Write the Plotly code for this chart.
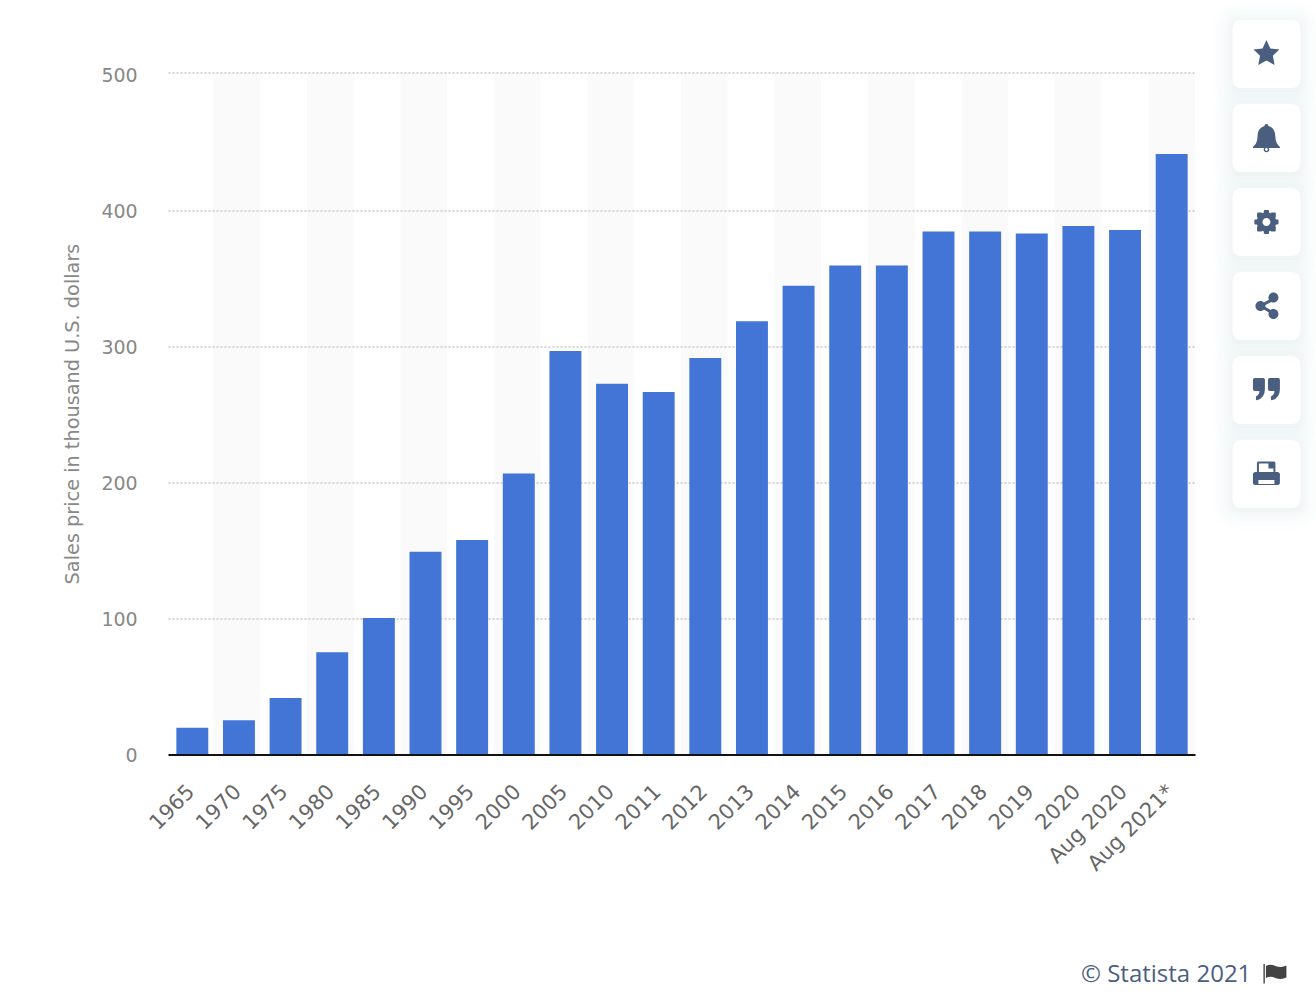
import re
import plotly.graph_objects as go

categories = ["1965", "1970", "1975", "1980", "1985", "1990", "1995", "2000", "2005", "2010", "2011",
              "2012", "2013", "2014", "2015", "2016", "2017", "2018", "2019", "2020", "Aug 2020", "Aug 2021*"]
values = [20, 25.6, 42, 75.6, 100.8, 149.4, 158, 207, 297, 273, 267, 292, 319, 345, 360, 360,
          385, 385, 383.5, 389, 386, 442]
y_ticks = [0, 100, 200, 300, 400, 500]

W, H = 1316, 1002
L, R, T, B = 168.5, 1195.5, 73, 755


def px(x, y):
    return (x - L) / (R - L), (B - y) / (B - T)


def to_paper(d):
    def conv(m):
        a, b = px(float(m.group(1)), float(m.group(2)))
        return f"{a:.5f},{b:.5f}"
    return re.sub(r"(-?[\d.]+),(-?[\d.]+)", conv, d)


def shape_path(d, color, layer="above"):
    return dict(type="path", xref="paper", yref="paper", path=to_paper(d), fillcolor=color,
                line=dict(width=0), layer=layer)


def rrect(x0, y0, x1, y1, r):
    return (f"M{x0 + r},{y0} L{x1 - r},{y0} Q{x1},{y0} {x1},{y0 + r} L{x1},{y1 - r} Q{x1},{y1} {x1 - r},{y1} "
            f"L{x0 + r},{y1} Q{x0},{y1} {x0},{y1 - r} L{x0},{y0 + r} Q{x0},{y0} {x0 + r},{y0} Z")


def circle(cx, cy, r):
    k = 0.5523 * r
    return (f"M{cx + r},{cy} C{cx + r},{cy + k} {cx + k},{cy + r} {cx},{cy + r} "
            f"C{cx - k},{cy + r} {cx - r},{cy + k} {cx - r},{cy} "
            f"C{cx - r},{cy - k} {cx - k},{cy - r} {cx},{cy - r} "
            f"C{cx + k},{cy - r} {cx + r},{cy - k} {cx + r},{cy} Z")


INK = "#4a5f80"
shapes = []

# alternating column bands
for k in range(10, -1, -1):
    x0, _ = px(1149 - 93.6 * k, 0)
    x1, _ = px(1149 - 93.6 * k + 46.6, 0)
    shapes.append(dict(type="rect", xref="paper", yref="paper", x0=x0, x1=x1, y0=0, y1=1,
                       fillcolor="#fafafa", line=dict(width=0), layer="below"))

# dotted grid lines, the top one sits on the plot edge
gx0, _ = px(168, 0)
gx1, _ = px(1195, 0)
for v in y_ticks[1:-1]:
    shapes.append(dict(type="line", xref="paper", yref="y", x0=gx0, x1=gx1, y0=v, y1=v,
                       line=dict(color="#c6c6c6", width=1.5, dash="2px,2px"), layer="below"))
shapes.append(dict(type="line", xref="paper", yref="paper", x0=gx0, x1=gx1, y0=1, y1=1,
                   line=dict(color="#c6c6c6", width=1.5, dash="2px,2px"), layer="below"))
# baseline
shapes.append(dict(type="line", xref="paper", yref="paper", x0=gx0, x1=px(1196, 0)[0], y0=0, y1=0,
                   line=dict(color="#111111", width=2), layer="above"))

# side panel cards with soft shadow
for k in range(6):
    y0 = 20 + 84 * k
    for grow, op in [(20, 0.006), (16, 0.007), (12, 0.009), (8, 0.011), (5, 0.013), (2, 0.016)]:
        shapes.append(shape_path(rrect(1233 - grow, y0 + 2 - grow, 1301 + grow, y0 + 70 + grow, 8 + grow),
                                 f"rgba(60,80,120,{op})"))
for k in range(6):
    y0 = 20 + 84 * k
    shapes.append(shape_path(rrect(1233, y0, 1301, y0 + 68, 9), "#ffffff"))

# star
star = ("M1267,40 L1270.9,48.4 L1280,49.6 L1273.4,55.8 L1275.2,65 L1267,60.6 L1258.8,65 L1260.6,55.8 "
        "L1254,49.6 L1263.1,48.4 Z")
shapes.append(shape_path(star, INK))
# bell
bell = ("M1267,124 Q1269,124 1269,126 Q1276,128 1276,137 Q1276,143 1280.5,147 L1280.5,148 L1253.5,148 L1253.5,147 "
        "Q1258,143 1258,137 Q1258,128 1265,126 Q1265,124 1267,124 Z")
shapes.append(shape_path(bell, INK))
shapes.append(shape_path(circle(1267, 149.5, 2.8), INK))
shapes.append(shape_path(circle(1267, 149.5, 1.4), "#ffffff"))
# gear
cx, cy = 1267, 222
shapes.append(shape_path(circle(cx, cy, 9.8), INK))
for dx, dy in [(0, -9.5), (0, 9.5), (-9.5, 0), (9.5, 0), (-6.8, -6.8), (6.8, -6.8), (-6.8, 6.8), (6.8, 6.8)]:
    shapes.append(shape_path(rrect(cx + dx - 2.6, cy + dy - 2.6, cx + dx + 2.6, cy + dy + 2.6, 1), INK))
shapes.append(shape_path(circle(cx, cy, 4), "#ffffff"))
# share
shapes.append(shape_path("M1261,304.5 L1274.5,297 L1275.5,300 L1262.5,307 Z", INK))
shapes.append(shape_path("M1261,307.5 L1274.5,315.5 L1275.5,312.5 L1262.5,305 Z", INK))
for c in [(1274, 297.5, 5), (1261, 306, 5), (1274, 314, 5)]:
    shapes.append(shape_path(circle(*c), INK))
# quote
for off in (0.5, 15.5):
    d = (f"M{1255 + off},378 L{1263.5 + off},378 Q{1265 + off},378 {1265 + off},380 L{1265 + off},389 "
         f"Q{1265 + off},398 {1257 + off},400.3 Q{1256 + off},400.3 {1256 + off},399 L{1256 + off},396.5 "
         f"Q{1259.5 + off},395 {1259.5 + off},391 L{1255 + off},391 Q{1253 + off},391 {1253 + off},389 "
         f"L{1253 + off},380 Q{1253 + off},378 {1255 + off},378 Z")
    shapes.append(shape_path(d, INK))
# printer
shapes.append(shape_path(rrect(1257.5, 461.5, 1276, 475, 1.5), INK))
shapes.append(shape_path("M1259.5,463.5 L1269,463.5 L1269,468.5 L1274,468.5 L1274,474 L1259.5,474 Z", "#ffffff"))
shapes.append(shape_path(rrect(1253.5, 472, 1280.5, 485, 2.5), INK))
shapes.append(shape_path("M1259,480 L1275,480 L1275,484 L1259,484 Z", "#ffffff"))
# flag
FLAG = "#444444"
shapes.append(shape_path("M1264,964 L1265.4,964 L1265.4,983.5 L1264,983.5 Z", FLAG))
shapes.append(shape_path("M1266.5,966 Q1271,963.5 1276,966 Q1282,968 1287,965.5 L1287,977.5 Q1282,980 1276,978 "
                         "Q1271,975.5 1266.5,978 Z", FLAG))

fig = go.Figure(go.Bar(x=categories, y=values, marker=dict(color="#4275d6", line=dict(width=0)),
                       width=0.685, hoverinfo="x+y"))

fx, fy = px(1253.5, 972.5)
fig.add_annotation(text="© Statista 2021", xref="paper", yref="paper", x=fx, y=fy, xanchor="right", yanchor="middle",
                   showarrow=False, font=dict(family="Open Sans", size=24, color=INK))

AXIS_FONT = "DejaVu Sans"
fig.update_layout(
    width=W, height=H, autosize=False,
    margin=dict(l=L, r=W - R, t=T, b=H - B, pad=0, autoexpand=False),
    paper_bgcolor="#ffffff", plot_bgcolor="#ffffff",
    showlegend=False, shapes=shapes,
    font=dict(family=AXIS_FONT),
    xaxis=dict(type="category", categoryorder="array", categoryarray=categories, range=[-0.5, 21.5],
               tickangle=-45, tickfont=dict(family=AXIS_FONT, size=21, color="#666666"),
               ticks="outside", ticklen=15, tickcolor="rgba(0,0,0,0)", showgrid=False,
               ticklabelshift=-4, showline=False, zeroline=False),
    yaxis=dict(range=[0, 501.47], tickvals=y_ticks, tickfont=dict(family=AXIS_FONT, size=19, color="#888888"),
               ticks="outside", ticklen=26.5, tickcolor="rgba(0,0,0,0)",
               showgrid=False, zeroline=False, showline=False,
               title=dict(text="Sales price in thousand U.S. dollars", standoff=16,
                          font=dict(family=AXIS_FONT, size=19.3, color="#888888"))),
)

fig.write_html("out.html", post_script="document.body.style.margin='0';",
               config=dict(displayModeBar=False))
